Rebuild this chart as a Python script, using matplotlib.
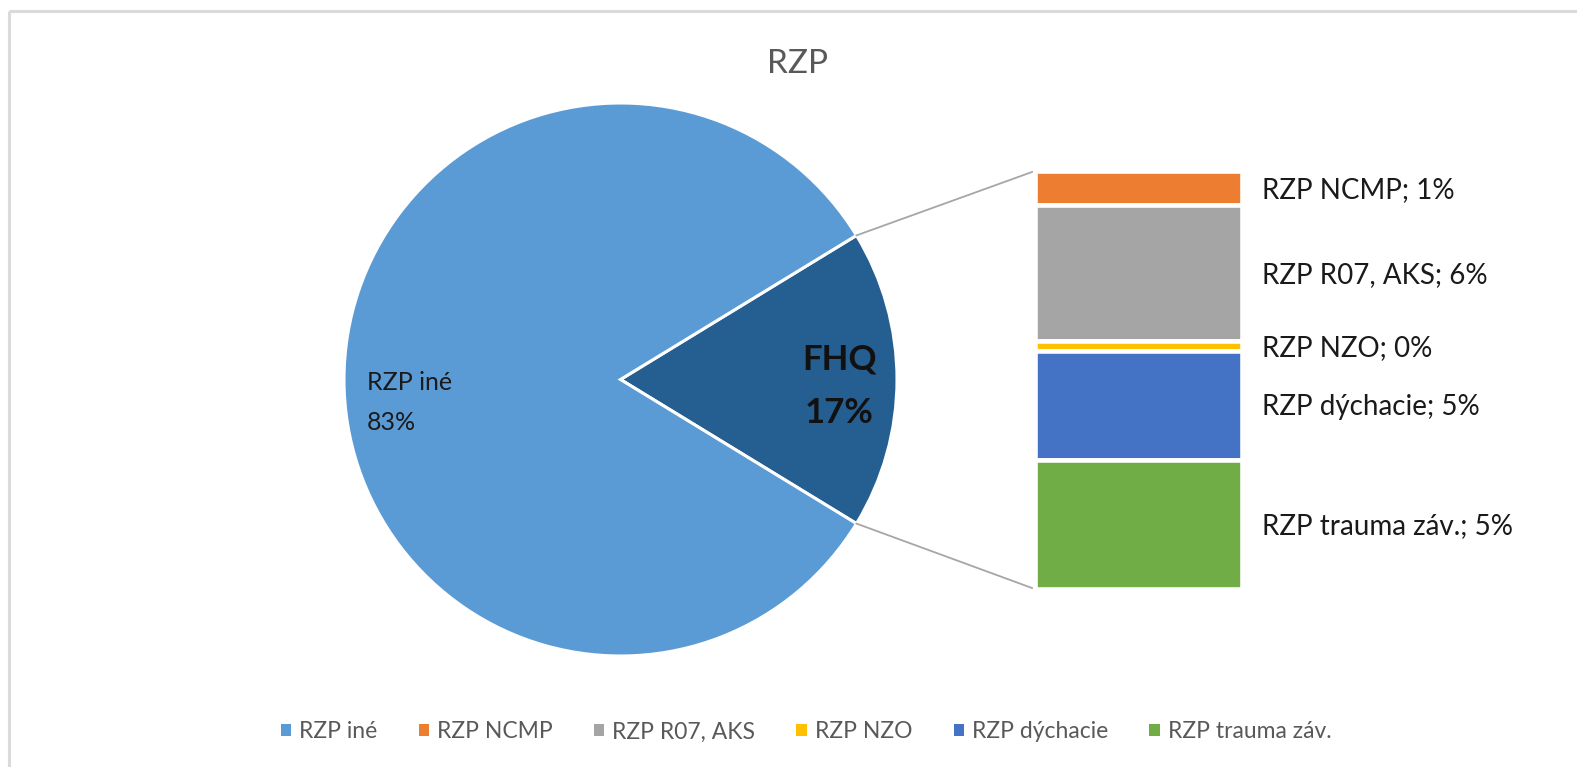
import matplotlib
matplotlib.use("Agg")
import matplotlib.pyplot as plt
from matplotlib.patches import Patch
import numpy as np

plt.rcParams['font.family'] = ['Lato', 'DejaVu Sans']

title = "RZP"
pie_labels = ["FHQ", "RZP iné"]
sub_labels = ["RZP NCMP", "RZP R07, AKS", "RZP NZO", "RZP dýchacie", "RZP trauma záv."]
sub_values = [1.4, 5.7, 0.4, 4.55, 5.4]
other_value = 82.55
fhq_value = sum(sub_values)

pie_colors = ["#255E91", "#5B9BD5"]
sub_colors = ["#ED7D31", "#A5A5A5", "#FFC000", "#4472C4", "#70AD47"]

W, H = 1577, 767
fig = plt.figure(figsize=(W / 100, H / 100), dpi=100)
ax = fig.add_axes([0, 0, 1, 1])
ax.set_xlim(0, W)
ax.set_ylim(0, H)
ax.axis("off")

def Y(y):
    return H - y

# border (top & left visible)
ax.plot([9, W + 5], [Y(11), Y(11)], color="#DADADA", lw=2.2, solid_capstyle="butt")
ax.plot([9, 9], [Y(11), -5], color="#DADADA", lw=2.2, solid_capstyle="butt")

# pie
cx, cy, r = 620.5, Y(379.5), 276.5
half = fhq_value / 100 * 360 / 2
ax.pie([fhq_value, other_value], colors=pie_colors, startangle=-half,
       center=(cx, cy), radius=r, counterclock=True,
       wedgeprops=dict(edgecolor="white", linewidth=2.2))
ax.set_xlim(0, W)
ax.set_ylim(0, H)
ax.set_aspect("auto")

# bar of pie
bx0, bx1, by0, by1 = 1035.0, 1241.6, 171.0, 589.0
ax2 = fig.add_axes([bx0 / W, (H - by1) / H, (bx1 - bx0) / W, (by1 - by0) / H])
ax2.set_xlim(-0.5, 0.5)
ax2.set_ylim(fhq_value, 0)
ax2.axis("off")
cum = 0.0
centers = []
for lab, v, c in zip(sub_labels, sub_values, sub_colors):
    ax2.bar(0, v, bottom=cum, width=1.0, color=c, edgecolor="white", linewidth=3.3)
    centers.append(cum + v / 2)
    cum += v

fig.canvas.draw()
for lab, v, cen in zip(sub_labels, sub_values, centers):
    py = ax2.transData.transform((0, cen))[1]
    ax.text(1262, py - 10, f"{lab}; {int(v + 0.5)}%", fontsize=20, color="#1a1a1a",
            ha="left", va="baseline")

# connector lines
ang = np.deg2rad(half)
ax.plot([cx + r * np.cos(ang), 1032], [cy + r * np.sin(ang), Y(172)], color="#A6A6A6", lw=1.3)
ax.plot([cx + r * np.cos(-ang), 1032], [cy + r * np.sin(-ang), Y(588)], color="#A6A6A6", lw=1.3)

# pie labels
ax.text(367, Y(390), f"{pie_labels[1]}", fontsize=18, color="#1a1a1a", ha="left", va="baseline")
ax.text(367, Y(430), f"{int(other_value + 0.5)}%", fontsize=18, color="#1a1a1a", ha="left", va="baseline")
ax.text(839.5, Y(370), pie_labels[0], fontsize=25, fontweight="bold", color="#111111",
        ha="center", va="baseline")
ax.text(839.5, Y(423), f"{int(fhq_value + 0.5)}%", fontsize=25, fontweight="bold", color="#111111",
        ha="center", va="baseline")

# title
ax.text(797.5, Y(73), title, fontsize=24, color="#595959", ha="center", va="baseline")

# legend
handles = [Patch(facecolor=c, edgecolor="none") for c in pie_colors[1:] + sub_colors]
leg = fig.legend(handles, ["RZP iné"] + sub_labels, loc="center", ncol=6,
                 bbox_to_anchor=(806 / W, (H - 732) / H), frameon=False, fontsize=16.5,
                 handlelength=0.45, handleheight=0.45, handletextpad=0.35, columnspacing=1.8)
for t in leg.get_texts():
    t.set_color("#595959")

fig.savefig("out.png", dpi=100, facecolor="white")
